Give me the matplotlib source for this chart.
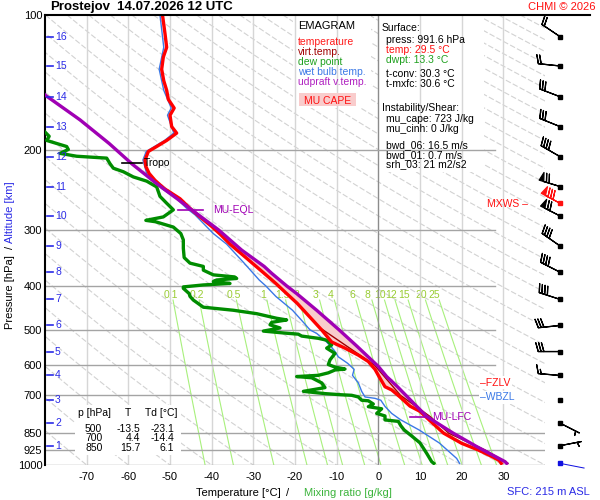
import numpy as np
import matplotlib
matplotlib.use('Agg')
import matplotlib.pyplot as plt
from matplotlib.patches import Rectangle
from matplotlib.lines import Line2D
from matplotlib.ticker import NullLocator

plt.rcParams['font.family'] = ['Liberation Sans', 'DejaVu Sans']

# ---------------- data ----------------
temp_p = [100, 110, 118, 124, 132, 140, 147, 154, 161, 167, 177, 183, 190, 196, 201, 210, 217, 225, 233, 243,
          256, 269, 281, 295, 308, 323, 346, 375, 395, 416, 437, 476, 501, 533, 550, 570, 589, 613, 632, 670,
          681, 706, 740, 760, 810, 850, 895, 926, 960, 977, 991.6]
temp_T = [-51.8, -51.2, -50.8, -51.6, -52.0, -51.5, -50.8, -50.4, -49.0, -50.0, -49.6, -48.4, -50.8, -53.2, -55.2,
          -56.0, -55.8, -55.0, -53.6, -51.4, -47.6, -45.2, -42.8, -40.0, -37.8, -35.6, -31.8, -27.4, -24.6, -22.0,
          -19.5, -15.8, -13.6, -11.2, -8.0, -4.8, -2.4, -0.8, 0.0, 1.6, 3.2, 5.2, 7.6, 10.0, 13.2, 15.7, 20.0,
          24.0, 27.5, 29.0, 29.5]

virt_p = [500, 600, 700, 780, 850, 925, 991.6]
virt_T = [-13.4, -0.9, 5.3, 12.4, 16.9, 25.5, 31.1]

dew_p = [176, 182, 186, 190, 196, 199, 203, 206, 208, 214, 219, 223, 229, 234, 241, 253, 262, 271, 281, 286,
         288, 290, 296, 306, 316, 330, 346, 356, 362, 369, 375, 378, 382, 385, 388, 391, 395, 398, 402, 405,
         416, 422, 430, 446, 453, 461, 472, 476, 482, 488, 496, 504, 509, 512, 517, 523, 528, 541, 550, 565,
         584, 598, 606, 612, 615, 624, 632, 636, 640, 657, 673, 686, 694, 698, 700, 706, 718, 720, 732, 742,
         750, 768, 778, 794, 800, 818, 836, 862, 893, 942, 983, 991.6]
dew_T = [-82.0, -80.0, -79.0, -79.6, -74.8, -74.4, -76.4, -72.4, -65.2, -64.4, -63.6, -61.2, -58.8, -55.6, -53.2,
         -52.4, -50.8, -49.2, -51.6, -55.8, -53.5, -52.4, -49.2, -47.4, -46.8, -46.8, -46.6, -45.2, -42.0, -42.0,
         -40.4, -39.6, -34.5, -34.0, -38.8, -39.6, -35.6, -42.0, -46.8, -46.8, -45.4, -45.2, -44.4, -42.0, -34.8,
         -29.2, -24.4, -22.0, -25.6, -26.0, -23.6, -27.6, -22.6, -19.2, -18.4, -14.4, -12.4, -11.2, -12.4, -10.4,
         -11.6, -12.0, -10.4, -8.0, -10.4, -12.0, -14.4, -19.6, -16.0, -13.6, -12.8, -18.0, -12.8, -9.0, -6.4,
         -4.8, -4.0, -2.4, -1.2, -2.4, 0.8, -0.4, 1.6, 1.6, 4.8, 5.4, 6.2, 8.0, 10.0, 11.6, 12.8, 13.3]

wb_p = [100, 118, 132, 147, 161, 167, 183, 190, 201, 210, 225, 243, 256, 269, 278, 306, 323, 356, 388, 400,
        422, 453, 484, 501, 510, 533, 556, 575, 594, 613, 632, 657, 686, 706, 711, 718, 741, 768, 794, 836,
        893, 967, 991.6]
wb_T = [-52.4, -51.5, -52.6, -51.5, -49.7, -50.6, -49.1, -51.3, -55.7, -56.5, -55.6, -52.0, -48.4, -46.0, -44.0,
        -39.6, -36.4, -32.2, -28.6, -27.0, -24.6, -20.6, -17.8, -16.4, -14.8, -12.4, -10.6, -9.6, -7.4, -5.8,
        -6.2, -4.8, -4.0, -3.2, -0.8, 0.6, 1.6, 3.2, 5.4, 9.8, 14.6, 18.8, 19.5]

parcel_p = [145, 150.6, 171, 193, 214, 237, 256, 271, 300, 333, 362, 375, 400, 416, 453, 501, 546, 604, 636,
            670, 694, 780, 850, 910, 983, 991.6]
parcel_T = [-81.5, -80.0, -71.6, -64.6, -59.2, -53.2, -48.3, -44.8, -38.4, -32.8, -27.4, -25.6, -22.0, -19.6,
            -14.8, -9.4, -5.0, 0.0, 2.0, 4.6, 6.2, 11.6, 18.0, 23.6, 30.4, 30.8]

lfc_p = 783
eql_p = 271
tropo_p = 213

pressure_ticks = [100, 200, 300, 400, 500, 600, 700, 850, 925, 1000]
temp_ticks = [-70, -60, -50, -40, -30, -20, -10, 0, 10, 20, 30]
mixing_ratios = [0.1, 0.2, 0.5, 1, 1.5, 2, 3, 4, 6, 8, 10, 12, 15, 20, 25]

alt_km = [16, 15, 14, 13, 12, 11, 10, 9, 8, 7, 6, 5, 4, 3, 2, 1]
alt_p = [111.7, 129.8, 151.9, 177.0, 206.4, 240.5, 279.6, 326.0, 372.8, 428.5, 489.7, 559.6, 632.5,
         718.7, 807.0, 906.0]
wind_dir = [304, 276, 291, 292, 300, 287, 297, 305, 297, 288, 264, 270, 275, 0, 117, 79]
wind_spd = [20, 20, 30, 30, 40, 70, 70, 40, 40, 40, 30, 30, 15, 0, 5, 5]
mxws_p, mxws_dir, mxws_spd = 261.6, 298, 80
sfc_p, sfc_dir, sfc_spd = 991.6, 101, 3

table_rows = [('500', '-13.5', '-23.1'), ('700', '4.4', '-14.4'), ('850', '15.7', '6.1')]

# ---------------- figure ----------------
W, H = 600, 500
fig = plt.figure(figsize=(6, 5), dpi=100)
fig.patch.set_facecolor('white')
ax = fig.add_axes([45 / W, 35 / H, 500 / W, 450 / H])
ax.set_yscale('log')
ax.set_ylim(1000, 100)
ax.set_xlim(-80, 40)
ax.yaxis.set_minor_locator(NullLocator())
ax.set_facecolor('white')
for s in ['top', 'right', 'bottom']:
    ax.spines[s].set_visible(False)
ax.spines['left'].set_linewidth(1.5)

def ftext(x, y, s, **kw):
    kw.setdefault('va', 'center')
    kw.setdefault('fontsize', 7.5)
    return fig.text(x / W, 1 - y / H, s, **kw)

def fbox(x0, y0, x1, y1, target, **kw):
    r = Rectangle((x0 / W, 1 - y1 / H), (x1 - x0) / W, (y1 - y0) / H,
                  transform=fig.transFigure, clip_on=False, **kw)
    target.add_artist(r)
    return r

# dry adiabats
pp = np.geomspace(100, 1000, 80)
for t1000 in range(-80, 360, 10):
    th = t1000 + 273.15
    ax.plot(th * (pp / 1000.0) ** 0.2857 - 273.15, pp, color='#d2d2d2', lw=0.8,
            ls=(0, (5, 2)), zorder=1)

# mixing ratio lines
pm = np.geomspace(430, 1000, 40)
for w in mixing_ratios:
    e = w * pm / (622.0 + w)
    lg = np.log(e / 6.112)
    ax.plot(243.5 * lg / (17.67 - lg), pm, color='#a8f07c', lw=0.8, zorder=1.2)
    e4 = w * 400 / (622.0 + w)
    l4 = np.log(e4 / 6.112)
    ax.text(243.5 * l4 / (17.67 - l4), 420, f'{w:g}', color='#99cc33', fontsize=7.5,
            ha='center', va='center', zorder=1.3)

# white boxes under grid
fbox(293, 16, 371, 108, ax, fc='white', ec='none', zorder=1.5)
fbox(379, 16, 484, 172, ax, fc='white', ec='none', zorder=1.5)

# isotherms
for t in temp_ticks:
    ax.plot([t, t], [1000, 100], color='#8c8c8c' if t == 0 else '#d6d6d6', lw=1, zorder=2)
# isobars
for p in pressure_ticks[1:]:
    tmax = 28.0 if p <= 700 else 40
    ax.plot([-80, tmax], [p, p], color='#a4a4a4', lw=1, zorder=2)

# CAPE fill
pg = np.geomspace(eql_p, lfc_p, 200)
tp_g = np.interp(np.log(pg), np.log(parcel_p), parcel_T)
te_g = np.interp(np.log(pg), np.log(temp_p), temp_T)
ax.fill_betweenx(pg, te_g, tp_g, where=tp_g >= te_g, color='#f9cccc', lw=0, zorder=3)

# profiles
ax.plot(wb_T, wb_p, color='#3a78e6', lw=1, zorder=4)
ax.plot(dew_T, dew_p, color='#008c00', lw=2.4, zorder=4)
ax.plot(virt_T, virt_p, color='#a00000', lw=1, zorder=4.5)
ax.plot(temp_T, temp_p, color='#ff0000', lw=2.4, zorder=5)
ax.plot(parcel_T, parcel_p, color='#a000b4', lw=2.4, zorder=6)

# ticks
ax.set_yticks(pressure_ticks)
ax.set_yticklabels([str(p) for p in pressure_ticks])
ax.set_xticks(temp_ticks)
ax.set_xticklabels([str(t) for t in temp_ticks])
ax.tick_params(axis='y', length=0, pad=2, labelsize=8)
ax.tick_params(axis='x', length=0, pad=5, labelsize=8)

# altitude ticks
trans_alt = ax.get_yaxis_transform()
for k, p in zip(alt_km, alt_p):
    ax.plot([0.004, 0.016], [p, p], color='#2a2ae6', lw=1.2, transform=trans_alt, zorder=7, clip_on=False)
    ax.text(0.02, p, str(k), color='#2a2ae6', fontsize=7.5, va='center', ha='left',
            transform=trans_alt, zorder=7)

# top line
fig.add_artist(Line2D([45 / W, 590 / W], [1 - 15 / H] * 2, color='k', lw=1.5))

# annotations
ax.plot([-61.5, -56.7], [tropo_p, tropo_p], color='k', lw=1.2, zorder=7)
ax.text(-56.2, tropo_p, 'Tropo', fontsize=7.5, va='center', ha='left', zorder=7)
ax.plot([-48.0, -42.0], [eql_p, eql_p], color='#a000b4', lw=1.2, zorder=7)
ax.text(-39.6, eql_p, 'MU-EQL', fontsize=7.5, color='#a000b4', va='center', ha='left', zorder=7)
ax.plot([7.6, 11.6], [lfc_p, lfc_p], color='#a000b4', lw=1.2, zorder=7)
ax.text(12.8, lfc_p, 'MU-LFC', fontsize=7.5, color='#a000b4', va='center', ha='left', zorder=7)

ftext(480, 382.7, '–FZLV', color='#ff1010',
      bbox=dict(fc='white', ec='none', pad=1.0))
ftext(480, 397.3, '–WBZL', color='#3a78e6',
      bbox=dict(fc='white', ec='none', pad=1.0))

# title etc
ftext(50, 7, 'Prostejov', fontsize=9.5, fontweight='bold')
ftext(117, 7, '14.07.2026 12 UTC', fontsize=9.5, fontweight='bold')
ftext(595, 7, 'CHMI © 2026', fontsize=8, color='#ff1010', ha='right')

ftext(10, 292, 'Pressure [hPa]', fontsize=8, rotation=90, ha='center')
ftext(10, 247, '/', fontsize=8, rotation=90, ha='center')
ftext(10, 212, 'Altitude [km]', fontsize=8, rotation=90, ha='center', color='#2a2ae6')
ftext(238, 493, 'Temperature [°C]', fontsize=8, ha='center')
ftext(288, 493, '/', fontsize=8, ha='center')
ftext(348, 493, 'Mixing ratio [g/kg]', fontsize=8, ha='center', color='#3cb43c')
ftext(590, 492, 'SFC: 215 m ASL', fontsize=8, ha='right', color='#2a2ae6')

# legend
ftext(298, 26, 'EMAGRAM', fontsize=8)
for i, (s, c) in enumerate([('temperature', '#ff1a1a'), ('virt.temp.', '#a00000'),
                            ('dew point', '#1ea01e'), ('wet bulb temp.', '#3a78e6'),
                            ('udpraft v.temp.', '#b020c0')]):
    ftext(298, 41.7 + 10 * i, s, color=c)
fig.add_artist(Rectangle((299 / W, 1 - 106 / H), 57 / W, 13 / H, transform=fig.transFigure,
                         fc='#f9cccc', ec='none'))
ftext(304, 100.5, 'MU CAPE', color='#ff1010')

# info box
info = [(382, 27.7, 'Surface:', 'k'), (386, 40, 'press: 991.6 hPa', 'k'),
        (386, 50, 'temp: 29.5 °C', '#ff1010'), (386, 60, 'dwpt: 13.3 °C', '#1ea01e'),
        (386, 74, 't-conv: 30.3 °C', 'k'), (386, 84.3, 't-mxfc: 30.6 °C', 'k'),
        (382, 108.3, 'Instability/Shear:', 'k'), (386, 119.3, 'mu_cape: 723 J/kg', 'k'),
        (386, 129.3, 'mu_cinh: 0 J/kg', 'k'), (386, 145, 'bwd_06: 16.5 m/s', 'k'),
        (386, 155, 'bwd_01: 0.7 m/s', 'k'), (386, 164.3, 'srh_03: 21 m2/s2', 'k')]
for x, y, s, c in info:
    ftext(x, y, s, color=c)

# table
fig.add_artist(Rectangle((75 / W, 1 - 455 / H), 106 / W, 50 / H, transform=fig.transFigure,
                         fc='white', ec='none'))
ftext(78, 413.3, 'p [hPa]')
ftext(128, 413.3, 'T', ha='center')
ftext(145, 413.3, 'Td [°C]')
for i, (pv, tv, dv) in enumerate(table_rows):
    y = 429 + 9.4 * i
    ftext(85, y, pv)
    ftext(140, y, tv, ha='right')
    ftext(174, y, dv, ha='right')

# ---------------- wind barbs ----------------
axw = fig.add_axes([520 / W, 35 / H, 80 / W, 450 / H], zorder=5)
axw.set_yscale('log')
axw.set_ylim(1000, 100)
axw.set_xlim(0, 1)
axw.axis('off')
xw = 0.5
BL = 5.6
bsizes = dict(height=0.4, width=0.22, spacing=0.13)

d = np.radians(wind_dir)
spd = np.array(wind_spd, dtype=float)
u = -spd * np.sin(d)
v = -spd * np.cos(d)
mask = spd > 0
axw.barbs(np.full(mask.sum(), xw), np.array(alt_p)[mask], u[mask], v[mask],
          length=BL, sizes=bsizes, linewidth=0.9, color='k', clip_on=False)
axw.plot(np.full(len(alt_p), xw), alt_p, 's', ms=2.6, color='k', clip_on=False)

dm = np.radians(mxws_dir)
axw.barbs([xw], [mxws_p], [-mxws_spd * np.sin(dm)], [-mxws_spd * np.cos(dm)],
          length=BL, sizes=bsizes, linewidth=0.9, color='#ff1010', clip_on=False)
axw.plot([xw], [mxws_p], 's', ms=2.6, color='#ff1010', clip_on=False)
ftext(487, 204, 'MXWS –', color='#ff1010')

ds = np.radians(sfc_dir)
axw.quiver([xw], [sfc_p], [np.sin(ds)], [np.cos(ds)], angles='uv', scale_units='inches',
           scale=4, units='inches', width=0.01, headwidth=0, headlength=0, headaxislength=0,
           color='#1010e0', pivot='tail', clip_on=False)
axw.plot([xw], [sfc_p], 's', ms=2.6, color='#1010e0', clip_on=False)

fig.savefig('out.png', dpi=100)
